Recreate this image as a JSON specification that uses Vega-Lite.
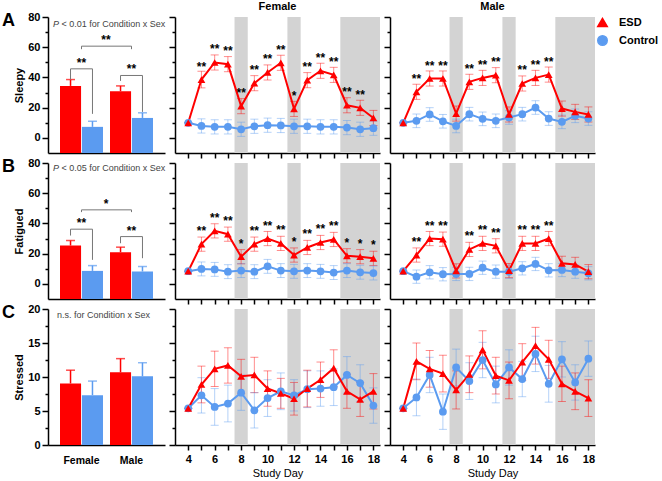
{
"$schema":"https://vega.github.io/schema/vega-lite/v6.json",
"padding":{"left":2,"top":1,"right":0,"bottom":2},
"config":{"view":{"stroke":null},"font":"Liberation Sans",
"axis":{"domainColor":"#000","domainWidth":1.5,"tickColor":"#000","tickWidth":1.5,"labelColor":"#000","labelFontSize":11,"labelFontWeight":"bold","titleColor":"#000","titleFontSize":11,"titleFontWeight":"bold","grid":false,"labelPadding":2,"labelOverlap":false,"tickCount":40},
"title":{"fontSize":11,"fontWeight":"bold","color":"#000","offset":0}},
"datasets":{
"bands":[{"d":7.5,"d2":8.5},{"d":11.5,"d2":12.5},{"d":15.5,"d2":18.5}],
"bars":[
{"m":"Sleepy","s":"Female","c":"ESD","v":34.4,"hi":38.6},{"m":"Sleepy","s":"Female","c":"Control","v":7.3,"hi":11},{"m":"Sleepy","s":"Male","c":"ESD","v":30.9,"hi":34.4},{"m":"Sleepy","s":"Male","c":"Control","v":13.2,"hi":16.6},
{"m":"Fatigued","s":"Female","c":"ESD","v":25.4,"hi":28.7},{"m":"Fatigued","s":"Female","c":"Control","v":8.6,"hi":12.1},{"m":"Fatigued","s":"Male","c":"ESD","v":21,"hi":24.3},{"m":"Fatigued","s":"Male","c":"Control","v":8.2,"hi":11.5},
{"m":"Stressed","s":"Female","c":"ESD","v":9.05,"hi":11},{"m":"Stressed","s":"Female","c":"Control","v":7.33,"hi":9.4},{"m":"Stressed","s":"Male","c":"ESD","v":10.7,"hi":12.7},{"m":"Stressed","s":"Male","c":"Control","v":10.1,"hi":12.1}],
"brk":[
{"m":"Sleepy","id":"F","o":1,"s":"Female","c":"ESD","v":38.6},{"m":"Sleepy","id":"F","o":2,"s":"Female","c":"ESD","v":45.7},{"m":"Sleepy","id":"F","o":3,"s":"Female","c":"Control","v":45.7},{"m":"Sleepy","id":"F","o":4,"s":"Female","c":"Control","v":15.9},
{"m":"Sleepy","id":"M","o":1,"s":"Male","c":"ESD","v":37.7},{"m":"Sleepy","id":"M","o":2,"s":"Male","c":"ESD","v":41.3},{"m":"Sleepy","id":"M","o":3,"s":"Male","c":"Control","v":41.3},{"m":"Sleepy","id":"M","o":4,"s":"Male","c":"Control","v":17.2},
{"m":"Sleepy","id":"B","o":1,"s":"Female","v":58.7},{"m":"Sleepy","id":"B","o":2,"s":"Female","v":60.7},{"m":"Sleepy","id":"B","o":3,"s":"Male","v":60.7},{"m":"Sleepy","id":"B","o":4,"s":"Male","v":58.7},
{"m":"Fatigued","id":"F","o":1,"s":"Female","c":"ESD","v":32},{"m":"Fatigued","id":"F","o":2,"s":"Female","c":"ESD","v":36.2},{"m":"Fatigued","id":"F","o":3,"s":"Female","c":"Control","v":36.2},{"m":"Fatigued","id":"F","o":4,"s":"Female","c":"Control","v":15.9},
{"m":"Fatigued","id":"M","o":1,"s":"Male","c":"ESD","v":26.9},{"m":"Fatigued","id":"M","o":2,"s":"Male","c":"ESD","v":31.3},{"m":"Fatigued","id":"M","o":3,"s":"Male","c":"Control","v":31.3},{"m":"Fatigued","id":"M","o":4,"s":"Male","c":"Control","v":17},
{"m":"Fatigued","id":"B","o":1,"s":"Female","v":47.5},{"m":"Fatigued","id":"B","o":2,"s":"Female","v":49},{"m":"Fatigued","id":"B","o":3,"s":"Male","v":49},{"m":"Fatigued","id":"B","o":4,"s":"Male","v":47.5}],
"brl":[
{"m":"Sleepy","id":"F","s":"Female","t":"**","v":45.7},{"m":"Sleepy","id":"M","s":"Male","t":"**","v":41.3},{"m":"Sleepy","id":"B","s":"Male","t":"**","v":60.7},
{"m":"Fatigued","id":"F","s":"Female","t":"**","v":36.2},{"m":"Fatigued","id":"M","s":"Male","t":"**","v":31.3},{"m":"Fatigued","id":"B","s":"Male","t":"*","v":49}],
"notes":[
{"m":"Sleepy","s":"Female","p":"P","t":"< 0.01 for Condition x Sex","v":75.5},
{"m":"Fatigued","s":"Female","p":"P","t":"< 0.05 for Condition x Sex","v":76.8},
{"m":"Stressed","s":"Female","p":"","t":"n.s. for Condition x Sex","v":19.1}],
"lines":[
{"m":"Sleepy","s":"Female","c":"Control","d":4,"v":10,"e":0,"t":""},{"m":"Sleepy","s":"Female","c":"Control","d":5,"v":7.9,"e":4.7,"t":""},{"m":"Sleepy","s":"Female","c":"Control","d":6,"v":7.3,"e":4.7,"t":""},{"m":"Sleepy","s":"Female","c":"Control","d":7,"v":7.3,"e":4.7,"t":""},{"m":"Sleepy","s":"Female","c":"Control","d":8,"v":5.7,"e":4.7,"t":""},{"m":"Sleepy","s":"Female","c":"Control","d":9,"v":7.7,"e":4.7,"t":""},{"m":"Sleepy","s":"Female","c":"Control","d":10,"v":8.4,"e":4.7,"t":""},{"m":"Sleepy","s":"Female","c":"Control","d":11,"v":8.2,"e":4.7,"t":""},{"m":"Sleepy","s":"Female","c":"Control","d":12,"v":7.7,"e":4.7,"t":""},{"m":"Sleepy","s":"Female","c":"Control","d":13,"v":7.7,"e":4.7,"t":""},{"m":"Sleepy","s":"Female","c":"Control","d":14,"v":7.3,"e":4.7,"t":""},{"m":"Sleepy","s":"Female","c":"Control","d":15,"v":7.3,"e":4.7,"t":""},{"m":"Sleepy","s":"Female","c":"Control","d":16,"v":6.8,"e":4.7,"t":""},{"m":"Sleepy","s":"Female","c":"Control","d":17,"v":5.7,"e":4.7,"t":""},{"m":"Sleepy","s":"Female","c":"Control","d":18,"v":6.4,"e":4.7,"t":""},
{"m":"Sleepy","s":"Male","c":"Control","d":4,"v":10,"e":0,"t":""},{"m":"Sleepy","s":"Male","c":"Control","d":5,"v":11.3,"e":4.5,"t":""},{"m":"Sleepy","s":"Male","c":"Control","d":6,"v":15.5,"e":4.5,"t":""},{"m":"Sleepy","s":"Male","c":"Control","d":7,"v":11,"e":4.5,"t":""},{"m":"Sleepy","s":"Male","c":"Control","d":8,"v":7.9,"e":4.5,"t":""},{"m":"Sleepy","s":"Male","c":"Control","d":9,"v":15.7,"e":4.5,"t":""},{"m":"Sleepy","s":"Male","c":"Control","d":10,"v":12.6,"e":4.5,"t":""},{"m":"Sleepy","s":"Male","c":"Control","d":11,"v":11.3,"e":4.5,"t":""},{"m":"Sleepy","s":"Male","c":"Control","d":12,"v":13.5,"e":4.5,"t":""},{"m":"Sleepy","s":"Male","c":"Control","d":13,"v":15.7,"e":4.5,"t":""},{"m":"Sleepy","s":"Male","c":"Control","d":14,"v":20.1,"e":4.5,"t":""},{"m":"Sleepy","s":"Male","c":"Control","d":15,"v":12.8,"e":4.5,"t":""},{"m":"Sleepy","s":"Male","c":"Control","d":16,"v":10.6,"e":4.5,"t":""},{"m":"Sleepy","s":"Male","c":"Control","d":17,"v":14.6,"e":4.5,"t":""},{"m":"Sleepy","s":"Male","c":"Control","d":18,"v":12.8,"e":4.5,"t":""},
{"m":"Fatigued","s":"Female","c":"Control","d":4,"v":8.4,"e":0,"t":""},{"m":"Fatigued","s":"Female","c":"Control","d":5,"v":9.9,"e":4.6,"t":""},{"m":"Fatigued","s":"Female","c":"Control","d":6,"v":9.6,"e":4.6,"t":""},{"m":"Fatigued","s":"Female","c":"Control","d":7,"v":8.1,"e":4.6,"t":""},{"m":"Fatigued","s":"Female","c":"Control","d":8,"v":8.8,"e":4.6,"t":""},{"m":"Fatigued","s":"Female","c":"Control","d":9,"v":8.1,"e":4.6,"t":""},{"m":"Fatigued","s":"Female","c":"Control","d":10,"v":11.6,"e":4.6,"t":""},{"m":"Fatigued","s":"Female","c":"Control","d":11,"v":8.8,"e":4.6,"t":""},{"m":"Fatigued","s":"Female","c":"Control","d":12,"v":8.3,"e":4.6,"t":""},{"m":"Fatigued","s":"Female","c":"Control","d":13,"v":8.8,"e":4.6,"t":""},{"m":"Fatigued","s":"Female","c":"Control","d":14,"v":8.3,"e":4.6,"t":""},{"m":"Fatigued","s":"Female","c":"Control","d":15,"v":7.5,"e":4.6,"t":""},{"m":"Fatigued","s":"Female","c":"Control","d":16,"v":8.8,"e":4.6,"t":""},{"m":"Fatigued","s":"Female","c":"Control","d":17,"v":7.7,"e":4.6,"t":""},{"m":"Fatigued","s":"Female","c":"Control","d":18,"v":7.2,"e":4.6,"t":""},
{"m":"Fatigued","s":"Male","c":"Control","d":4,"v":8.4,"e":0,"t":""},{"m":"Fatigued","s":"Male","c":"Control","d":5,"v":4.8,"e":4.4,"t":""},{"m":"Fatigued","s":"Male","c":"Control","d":6,"v":7.7,"e":4.4,"t":""},{"m":"Fatigued","s":"Male","c":"Control","d":7,"v":6.4,"e":4.4,"t":""},{"m":"Fatigued","s":"Male","c":"Control","d":8,"v":6.6,"e":4.4,"t":""},{"m":"Fatigued","s":"Male","c":"Control","d":9,"v":6.6,"e":4.4,"t":""},{"m":"Fatigued","s":"Male","c":"Control","d":10,"v":10.7,"e":4.4,"t":""},{"m":"Fatigued","s":"Male","c":"Control","d":11,"v":8.1,"e":4.4,"t":""},{"m":"Fatigued","s":"Male","c":"Control","d":12,"v":8.1,"e":4.4,"t":""},{"m":"Fatigued","s":"Male","c":"Control","d":13,"v":10.3,"e":4.4,"t":""},{"m":"Fatigued","s":"Male","c":"Control","d":14,"v":13.2,"e":4.4,"t":""},{"m":"Fatigued","s":"Male","c":"Control","d":15,"v":9,"e":4.4,"t":""},{"m":"Fatigued","s":"Male","c":"Control","d":16,"v":9.2,"e":4.4,"t":""},{"m":"Fatigued","s":"Male","c":"Control","d":17,"v":8.1,"e":4.4,"t":""},{"m":"Fatigued","s":"Male","c":"Control","d":18,"v":7,"e":4.4,"t":""},
{"m":"Stressed","s":"Female","c":"Control","d":4,"v":5.4,"e":0,"t":""},{"m":"Stressed","s":"Female","c":"Control","d":5,"v":7.3,"e":2.6,"t":""},{"m":"Stressed","s":"Female","c":"Control","d":6,"v":5.6,"e":2.7,"t":""},{"m":"Stressed","s":"Female","c":"Control","d":7,"v":6.1,"e":2.7,"t":""},{"m":"Stressed","s":"Female","c":"Control","d":8,"v":7.7,"e":2.6,"t":""},{"m":"Stressed","s":"Female","c":"Control","d":9,"v":5.1,"e":2.6,"t":""},{"m":"Stressed","s":"Female","c":"Control","d":10,"v":6.9,"e":2.7,"t":""},{"m":"Stressed","s":"Female","c":"Control","d":11,"v":7.9,"e":2.7,"t":""},{"m":"Stressed","s":"Female","c":"Control","d":12,"v":7.3,"e":2.3,"t":""},{"m":"Stressed","s":"Female","c":"Control","d":13,"v":8.2,"e":2.7,"t":""},{"m":"Stressed","s":"Female","c":"Control","d":14,"v":8.3,"e":2.6,"t":""},{"m":"Stressed","s":"Female","c":"Control","d":15,"v":8.5,"e":2.7,"t":""},{"m":"Stressed","s":"Female","c":"Control","d":16,"v":10.3,"e":2.7,"t":""},{"m":"Stressed","s":"Female","c":"Control","d":17,"v":9.1,"e":2.7,"t":""},{"m":"Stressed","s":"Female","c":"Control","d":18,"v":5.8,"e":2.6,"t":""},
{"m":"Stressed","s":"Male","c":"Control","d":4,"v":5.4,"e":0,"t":""},{"m":"Stressed","s":"Male","c":"Control","d":5,"v":7,"e":2.7,"t":""},{"m":"Stressed","s":"Male","c":"Control","d":6,"v":10.3,"e":2.6,"t":""},{"m":"Stressed","s":"Male","c":"Control","d":7,"v":4.9,"e":2.6,"t":""},{"m":"Stressed","s":"Male","c":"Control","d":8,"v":11.4,"e":2.7,"t":""},{"m":"Stressed","s":"Male","c":"Control","d":9,"v":9.4,"e":2.7,"t":""},{"m":"Stressed","s":"Male","c":"Control","d":10,"v":12.5,"e":2.6,"t":""},{"m":"Stressed","s":"Male","c":"Control","d":11,"v":8.9,"e":2.7,"t":""},{"m":"Stressed","s":"Male","c":"Control","d":12,"v":11.4,"e":2.6,"t":""},{"m":"Stressed","s":"Male","c":"Control","d":13,"v":9.7,"e":2.6,"t":""},{"m":"Stressed","s":"Male","c":"Control","d":14,"v":13.4,"e":2.6,"t":""},{"m":"Stressed","s":"Male","c":"Control","d":15,"v":9,"e":2.7,"t":""},{"m":"Stressed","s":"Male","c":"Control","d":16,"v":12.6,"e":2.6,"t":""},{"m":"Stressed","s":"Male","c":"Control","d":17,"v":9.2,"e":2.6,"t":""},{"m":"Stressed","s":"Male","c":"Control","d":18,"v":12.7,"e":2.6,"t":""},
{"m":"Sleepy","s":"Female","c":"ESD","d":4,"v":10,"e":0,"t":""},{"m":"Sleepy","s":"Female","c":"ESD","d":5,"v":38.6,"e":5.5,"t":"**"},{"m":"Sleepy","s":"Female","c":"ESD","d":6,"v":49.9,"e":5,"t":"**"},{"m":"Sleepy","s":"Female","c":"ESD","d":7,"v":48.8,"e":5,"t":"**"},{"m":"Sleepy","s":"Female","c":"ESD","d":8,"v":21,"e":5,"t":"**"},{"m":"Sleepy","s":"Female","c":"ESD","d":9,"v":36.2,"e":5,"t":"**"},{"m":"Sleepy","s":"Female","c":"ESD","d":10,"v":43.3,"e":5,"t":"**"},{"m":"Sleepy","s":"Female","c":"ESD","d":11,"v":49.7,"e":5,"t":"**"},{"m":"Sleepy","s":"Female","c":"ESD","d":12,"v":19.2,"e":5,"t":"*"},{"m":"Sleepy","s":"Female","c":"ESD","d":13,"v":38.2,"e":5,"t":"**"},{"m":"Sleepy","s":"Female","c":"ESD","d":14,"v":44.4,"e":5,"t":"**"},{"m":"Sleepy","s":"Female","c":"ESD","d":15,"v":41.7,"e":5,"t":"**"},{"m":"Sleepy","s":"Female","c":"ESD","d":16,"v":21.6,"e":5,"t":"**"},{"m":"Sleepy","s":"Female","c":"ESD","d":17,"v":19.9,"e":5,"t":"**"},{"m":"Sleepy","s":"Female","c":"ESD","d":18,"v":13.2,"e":5,"t":""},
{"m":"Sleepy","s":"Male","c":"ESD","d":4,"v":10,"e":0,"t":""},{"m":"Sleepy","s":"Male","c":"ESD","d":5,"v":30.5,"e":5,"t":"**"},{"m":"Sleepy","s":"Male","c":"ESD","d":6,"v":39.3,"e":5,"t":"**"},{"m":"Sleepy","s":"Male","c":"ESD","d":7,"v":39.3,"e":5,"t":"**"},{"m":"Sleepy","s":"Male","c":"ESD","d":8,"v":16.1,"e":5,"t":""},{"m":"Sleepy","s":"Male","c":"ESD","d":9,"v":37.1,"e":5,"t":"**"},{"m":"Sleepy","s":"Male","c":"ESD","d":10,"v":39.7,"e":5,"t":"**"},{"m":"Sleepy","s":"Male","c":"ESD","d":11,"v":41.5,"e":5,"t":"**"},{"m":"Sleepy","s":"Male","c":"ESD","d":12,"v":15.5,"e":5,"t":""},{"m":"Sleepy","s":"Male","c":"ESD","d":13,"v":36,"e":5,"t":"**"},{"m":"Sleepy","s":"Male","c":"ESD","d":14,"v":39.7,"e":5,"t":"**"},{"m":"Sleepy","s":"Male","c":"ESD","d":15,"v":41.9,"e":5,"t":"**"},{"m":"Sleepy","s":"Male","c":"ESD","d":16,"v":19.4,"e":5,"t":""},{"m":"Sleepy","s":"Male","c":"ESD","d":17,"v":17.2,"e":5,"t":""},{"m":"Sleepy","s":"Male","c":"ESD","d":18,"v":15.5,"e":5,"t":""},
{"m":"Fatigued","s":"Female","c":"ESD","d":4,"v":8.4,"e":0,"t":""},{"m":"Fatigued","s":"Female","c":"ESD","d":5,"v":26.3,"e":4.7,"t":"**"},{"m":"Fatigued","s":"Female","c":"ESD","d":6,"v":35.1,"e":4.7,"t":"**"},{"m":"Fatigued","s":"Female","c":"ESD","d":7,"v":32.9,"e":4.7,"t":"**"},{"m":"Fatigued","s":"Female","c":"ESD","d":8,"v":18,"e":4.7,"t":"*"},{"m":"Fatigued","s":"Female","c":"ESD","d":9,"v":26.3,"e":4.7,"t":"**"},{"m":"Fatigued","s":"Female","c":"ESD","d":10,"v":30,"e":4.7,"t":"**"},{"m":"Fatigued","s":"Female","c":"ESD","d":11,"v":26.8,"e":4.7,"t":"**"},{"m":"Fatigued","s":"Female","c":"ESD","d":12,"v":19.1,"e":4.7,"t":"*"},{"m":"Fatigued","s":"Female","c":"ESD","d":13,"v":24.1,"e":4.7,"t":"**"},{"m":"Fatigued","s":"Female","c":"ESD","d":14,"v":27.4,"e":4.7,"t":"**"},{"m":"Fatigued","s":"Female","c":"ESD","d":15,"v":29.4,"e":4.7,"t":"**"},{"m":"Fatigued","s":"Female","c":"ESD","d":16,"v":18.6,"e":4.7,"t":"*"},{"m":"Fatigued","s":"Female","c":"ESD","d":17,"v":18,"e":4.7,"t":"*"},{"m":"Fatigued","s":"Female","c":"ESD","d":18,"v":16.9,"e":4.7,"t":"*"},
{"m":"Fatigued","s":"Male","c":"ESD","d":4,"v":8.4,"e":0,"t":""},{"m":"Fatigued","s":"Male","c":"ESD","d":5,"v":19.1,"e":4.7,"t":"**"},{"m":"Fatigued","s":"Male","c":"ESD","d":6,"v":30,"e":4.7,"t":"**"},{"m":"Fatigued","s":"Male","c":"ESD","d":7,"v":29.6,"e":4.7,"t":"**"},{"m":"Fatigued","s":"Male","c":"ESD","d":8,"v":8.6,"e":4.7,"t":""},{"m":"Fatigued","s":"Male","c":"ESD","d":9,"v":22.8,"e":4.7,"t":"**"},{"m":"Fatigued","s":"Male","c":"ESD","d":10,"v":26.8,"e":4.7,"t":"**"},{"m":"Fatigued","s":"Male","c":"ESD","d":11,"v":25.2,"e":4.7,"t":"**"},{"m":"Fatigued","s":"Male","c":"ESD","d":12,"v":8.8,"e":4.7,"t":""},{"m":"Fatigued","s":"Male","c":"ESD","d":13,"v":26.8,"e":4.7,"t":"**"},{"m":"Fatigued","s":"Male","c":"ESD","d":14,"v":26.8,"e":4.7,"t":"**"},{"m":"Fatigued","s":"Male","c":"ESD","d":15,"v":30,"e":4.7,"t":"**"},{"m":"Fatigued","s":"Male","c":"ESD","d":16,"v":13.6,"e":4.7,"t":""},{"m":"Fatigued","s":"Male","c":"ESD","d":17,"v":12.9,"e":4.7,"t":""},{"m":"Fatigued","s":"Male","c":"ESD","d":18,"v":8.1,"e":4.7,"t":""},
{"m":"Stressed","s":"Female","c":"ESD","d":4,"v":5.4,"e":0,"t":""},{"m":"Stressed","s":"Female","c":"ESD","d":5,"v":8.9,"e":2.7,"t":""},{"m":"Stressed","s":"Female","c":"ESD","d":6,"v":11.2,"e":2.6,"t":""},{"m":"Stressed","s":"Female","c":"ESD","d":7,"v":11.7,"e":2.6,"t":""},{"m":"Stressed","s":"Female","c":"ESD","d":8,"v":10.1,"e":2.5,"t":""},{"m":"Stressed","s":"Female","c":"ESD","d":9,"v":10.3,"e":2.6,"t":""},{"m":"Stressed","s":"Female","c":"ESD","d":10,"v":8.3,"e":2.6,"t":""},{"m":"Stressed","s":"Female","c":"ESD","d":11,"v":7.6,"e":2.2,"t":""},{"m":"Stressed","s":"Female","c":"ESD","d":12,"v":6.8,"e":2.4,"t":""},{"m":"Stressed","s":"Female","c":"ESD","d":13,"v":8.3,"e":2.7,"t":""},{"m":"Stressed","s":"Female","c":"ESD","d":14,"v":9.6,"e":2.6,"t":""},{"m":"Stressed","s":"Female","c":"ESD","d":15,"v":11.3,"e":2.7,"t":""},{"m":"Stressed","s":"Female","c":"ESD","d":16,"v":7.9,"e":2.5,"t":""},{"m":"Stressed","s":"Female","c":"ESD","d":17,"v":6.7,"e":2.5,"t":""},{"m":"Stressed","s":"Female","c":"ESD","d":18,"v":7.9,"e":2.6,"t":""},
{"m":"Stressed","s":"Male","c":"ESD","d":4,"v":5.4,"e":0,"t":""},{"m":"Stressed","s":"Male","c":"ESD","d":5,"v":12.3,"e":2.7,"t":""},{"m":"Stressed","s":"Male","c":"ESD","d":6,"v":11.2,"e":2.7,"t":""},{"m":"Stressed","s":"Male","c":"ESD","d":7,"v":10.5,"e":2.7,"t":""},{"m":"Stressed","s":"Male","c":"ESD","d":8,"v":8.1,"e":2.8,"t":""},{"m":"Stressed","s":"Male","c":"ESD","d":9,"v":10.4,"e":2.7,"t":""},{"m":"Stressed","s":"Male","c":"ESD","d":10,"v":14,"e":2.8,"t":""},{"m":"Stressed","s":"Male","c":"ESD","d":11,"v":10.2,"e":2.7,"t":""},{"m":"Stressed","s":"Male","c":"ESD","d":12,"v":9.5,"e":2.7,"t":""},{"m":"Stressed","s":"Male","c":"ESD","d":13,"v":12.2,"e":2.7,"t":""},{"m":"Stressed","s":"Male","c":"ESD","d":14,"v":14.6,"e":2.7,"t":""},{"m":"Stressed","s":"Male","c":"ESD","d":15,"v":12.6,"e":2.8,"t":""},{"m":"Stressed","s":"Male","c":"ESD","d":16,"v":9,"e":2.6,"t":""},{"m":"Stressed","s":"Male","c":"ESD","d":17,"v":7.9,"e":2.7,"t":""},{"m":"Stressed","s":"Male","c":"ESD","d":18,"v":6.9,"e":2.7,"t":""}]
},
"resolve":{"scale":{"color":"independent","shape":"independent"},"legend":{"color":"independent","shape":"independent"}},
"bounds":"flush",
"columns":3,
"spacing":{"row":10,"column":10},
"concat":[
{"width":117,"height":136,
 "title":{"text":"A","anchor":"start","frame":"group","orient":"top","dx":-46,"dy":33,"fontSize":18,"offset":0,"baseline":"alphabetic"},
 "layer":[
  {"data":{"name":"bars"},"transform":[{"filter":"datum.m==='Sleepy'"}],"mark":{"type":"bar"},
   "encoding":{"x":{"field":"s","type":"nominal","sort":["Female","Male"],"scale":{"paddingInner":0.14,"paddingOuter":0.24},"axis":{"labels":false,"ticks":false,"title":null}},
    "xOffset":{"field":"c","type":"nominal","sort":["ESD","Control"],"scale":{"domain":["ESD","Control"],"paddingInner":0.04}},
    "y":{"field":"v","type":"quantitative","scale":{"domain":[-10,80],"nice":false,"zero":false},"axis":{"values":[0,10,20,30,40,50,60,70,80],"tickCount":40,"format":"d","labelOverlap":false,"labelExpr":"datum.value % 20 === 0 ? datum.label : ''","tickSize":{"condition":{"test":"datum.value % 20 === 0","value":6},"value":3},"title":"Sleepy","titlePadding":3}},
    "y2":{"datum":-10},
    "color":{"field":"c","type":"nominal","scale":{"domain":["ESD","Control"],"range":["#FF0000","#5B9BF0"]},"legend":null}}},
  {"data":{"name":"bars"},"transform":[{"filter":"datum.m==='Sleepy'"}],"mark":{"type":"rule","strokeWidth":1.5},
   "encoding":{"x":{"field":"s","type":"nominal"},"xOffset":{"field":"c","type":"nominal"},"y":{"field":"v","type":"quantitative"},"y2":{"field":"hi"},"color":{"field":"c","type":"nominal","legend":null}}},
  {"data":{"name":"bars"},"transform":[{"filter":"datum.m==='Sleepy'"}],"mark":{"type":"tick","size":9,"thickness":1.5},
   "encoding":{"x":{"field":"s","type":"nominal"},"xOffset":{"field":"c","type":"nominal"},"y":{"field":"hi","type":"quantitative"},"color":{"field":"c","type":"nominal","legend":null}}},
  {"data":{"name":"brk"},"transform":[{"filter":"datum.m==='Sleepy' && datum.id!=='B'"}],"mark":{"type":"line","color":"#777","strokeWidth":1},
   "encoding":{"x":{"field":"s","type":"nominal"},"xOffset":{"field":"c","type":"nominal"},"y":{"field":"v","type":"quantitative"},"detail":{"field":"id"},"order":{"field":"o"}}},
  {"data":{"name":"brk"},"transform":[{"filter":"datum.m==='Sleepy' && datum.id==='B'"}],"mark":{"type":"line","color":"#777","strokeWidth":1},
   "encoding":{"x":{"field":"s","type":"nominal"},"y":{"field":"v","type":"quantitative"},"order":{"field":"o"}}},
  {"data":{"name":"brl"},"transform":[{"filter":"datum.m==='Sleepy' && datum.id!=='B'"}],"mark":{"type":"text","dy":-6,"fontSize":12,"fontWeight":"bold","baseline":"middle"},
   "encoding":{"x":{"field":"s","type":"nominal"},"y":{"field":"v","type":"quantitative"},"text":{"field":"t"}}},
  {"data":{"name":"brl"},"transform":[{"filter":"datum.m==='Sleepy' && datum.id==='B'"}],"mark":{"type":"text","dy":-6,"dx":-4,"fontSize":12,"fontWeight":"bold","baseline":"middle"},
   "encoding":{"x":{"field":"s","type":"nominal","bandPosition":0},"y":{"field":"v","type":"quantitative"},"text":{"field":"t"}}},
  {"data":{"name":"notes"},"transform":[{"filter":"datum.m==='Sleepy'"}],"mark":{"type":"text","align":"left","dx":-7,"fontSize":9,"fontStyle":"italic","color":"#444","baseline":"middle"},
   "encoding":{"x":{"field":"s","type":"nominal","bandPosition":0},"y":{"field":"v","type":"quantitative"},"text":{"field":"p"}}},
  {"data":{"name":"notes"},"transform":[{"filter":"datum.m==='Sleepy'"}],"mark":{"type":"text","align":"left","dx":1.5,"fontSize":9,"color":"#444","baseline":"middle"},
   "encoding":{"x":{"field":"s","type":"nominal","bandPosition":0},"y":{"field":"v","type":"quantitative"},"text":{"field":"t"}}}
 ]},
{"width":205,"height":136,"title":{"text":"Female"},
 "encoding":{"x":{"field":"d","type":"quantitative","scale":{"domain":[3,18.5],"nice":false,"zero":false},"axis":{"values":[4,5,6,7,8,9,10,11,12,13,14,15,16,17,18],"tickCount":40,"labels":false,"title":null,"tickSize":5}}},
 "layer":[
  {"data":{"name":"bands"},"mark":{"type":"rect","color":"#D3D3D3"},"encoding":{"x2":{"field":"d2"}}},
  {"data":{"name":"lines"},"transform":[{"filter":"datum.m==='Sleepy' && datum.s==='Female'"}],"mark":{"type":"errorbar","ticks":{"size":8},"thickness":1},"encoding":{"y":{"field":"v","type":"quantitative","scale":{"domain":[-10,80],"nice":false,"zero":false},"axis":{"values":[0,10,20,30,40,50,60,70,80],"tickCount":40,"labels":false,"title":null,"tickSize":{"condition":{"test":"datum.value % 20 === 0","value":6},"value":3}}},"yError":{"field":"e"},"color":{"field":"c","type":"nominal","scale":{"domain":["ESD","Control"],"range":["#FF0000","#5B9BF0"]},"legend":null},"opacity":{"value":0.45}}},
  {"data":{"name":"lines"},"transform":[{"filter":"datum.m==='Sleepy' && datum.s==='Female'"}],"mark":{"type":"line","strokeWidth":2},"encoding":{"y":{"field":"v","type":"quantitative"},"color":{"field":"c","type":"nominal","legend":null}}},
  {"data":{"name":"lines"},"transform":[{"filter":"datum.m==='Sleepy' && datum.s==='Female'"}],"mark":{"type":"point","filled":true,"size":60,"opacity":1},"encoding":{"y":{"field":"v","type":"quantitative"},"color":{"field":"c","type":"nominal","legend":null},"shape":{"field":"c","type":"nominal","scale":{"domain":["ESD","Control"],"range":["triangle-up","circle"]},"legend":null}}},
  {"data":{"name":"lines"},"transform":[{"filter":"datum.m==='Sleepy' && datum.s==='Female' && datum.t !== ''"}],"mark":{"type":"text","dy":-13,"fontSize":12,"fontWeight":"bold","baseline":"middle"},"encoding":{"y":{"field":"v","type":"quantitative"},"text":{"field":"t"}}}
 ]},
{"width":205,"height":136,"title":{"text":"Male"},
 "encoding":{"x":{"field":"d","type":"quantitative","scale":{"domain":[3,18.5],"nice":false,"zero":false},"axis":{"values":[4,5,6,7,8,9,10,11,12,13,14,15,16,17,18],"tickCount":40,"labels":false,"title":null,"tickSize":5}}},
 "layer":[
  {"data":{"name":"bands"},"mark":{"type":"rect","color":"#D3D3D3"},"encoding":{"x2":{"field":"d2"}}},
  {"data":{"name":"lines"},"transform":[{"filter":"datum.m==='Sleepy' && datum.s==='Male' && datum.c==='Control'"}],"mark":{"type":"errorbar","ticks":{"size":8},"thickness":1,"color":"#5B9BF0","opacity":0.45},"encoding":{"y":{"field":"v","type":"quantitative","scale":{"domain":[-10,80],"nice":false,"zero":false},"axis":{"values":[0,10,20,30,40,50,60,70,80],"tickCount":40,"labels":false,"title":null,"tickSize":{"condition":{"test":"datum.value % 20 === 0","value":6},"value":3}}},"yError":{"field":"e"}}},
  {"data":{"name":"lines"},"transform":[{"filter":"datum.m==='Sleepy' && datum.s==='Male' && datum.c==='ESD'"}],"mark":{"type":"errorbar","ticks":{"size":8},"thickness":1,"color":"#FF0000","opacity":0.45},"encoding":{"y":{"field":"v","type":"quantitative"},"yError":{"field":"e"}}},
  {"data":{"name":"lines"},"transform":[{"filter":"datum.m==='Sleepy' && datum.s==='Male'"}],"mark":{"type":"line","strokeWidth":2},"encoding":{"y":{"field":"v","type":"quantitative"},"color":{"field":"c","type":"nominal","scale":{"domain":["ESD","Control"],"range":["#FF0000","#5B9BF0"]}}}},
  {"data":{"name":"lines"},"transform":[{"filter":"datum.m==='Sleepy' && datum.s==='Male'"}],"mark":{"type":"point","filled":true,"size":60,"opacity":1},"encoding":{"y":{"field":"v","type":"quantitative"},"color":{"field":"c","type":"nominal","legend":{"title":null,"orient":"right","offset":2,"padding":0,"labelFontSize":11,"labelFontWeight":"bold","labelColor":"#000","symbolSize":90,"labelOffset":11,"rowPadding":2,"symbolOpacity":1}},"shape":{"field":"c","type":"nominal","scale":{"domain":["ESD","Control"],"range":["triangle-up","circle"]},"legend":null}}},
  {"data":{"name":"lines"},"transform":[{"filter":"datum.m==='Sleepy' && datum.s==='Male' && datum.t !== ''"}],"mark":{"type":"text","dy":-13,"fontSize":12,"fontWeight":"bold","baseline":"middle"},"encoding":{"y":{"field":"v","type":"quantitative"},"text":{"field":"t"}}}
 ]},
{"width":117,"height":136,
 "title":{"text":"B","anchor":"start","frame":"group","orient":"top","dx":-46,"dy":33,"fontSize":18,"offset":0,"baseline":"alphabetic"},
 "layer":[
  {"data":{"name":"bars"},"transform":[{"filter":"datum.m==='Fatigued'"}],"mark":{"type":"bar"},
   "encoding":{"x":{"field":"s","type":"nominal","sort":["Female","Male"],"scale":{"paddingInner":0.14,"paddingOuter":0.24},"axis":{"labels":false,"ticks":false,"title":null}},
    "xOffset":{"field":"c","type":"nominal","sort":["ESD","Control"],"scale":{"domain":["ESD","Control"],"paddingInner":0.04}},
    "y":{"field":"v","type":"quantitative","scale":{"domain":[-10,80],"nice":false,"zero":false},"axis":{"values":[0,10,20,30,40,50,60,70,80],"tickCount":40,"format":"d","labelOverlap":false,"labelExpr":"datum.value % 20 === 0 ? datum.label : ''","tickSize":{"condition":{"test":"datum.value % 20 === 0","value":6},"value":3},"title":"Fatigued","titlePadding":3}},
    "y2":{"datum":-10},
    "color":{"field":"c","type":"nominal","scale":{"domain":["ESD","Control"],"range":["#FF0000","#5B9BF0"]},"legend":null}}},
  {"data":{"name":"bars"},"transform":[{"filter":"datum.m==='Fatigued'"}],"mark":{"type":"rule","strokeWidth":1.5},
   "encoding":{"x":{"field":"s","type":"nominal"},"xOffset":{"field":"c","type":"nominal"},"y":{"field":"v","type":"quantitative"},"y2":{"field":"hi"},"color":{"field":"c","type":"nominal","legend":null}}},
  {"data":{"name":"bars"},"transform":[{"filter":"datum.m==='Fatigued'"}],"mark":{"type":"tick","size":9,"thickness":1.5},
   "encoding":{"x":{"field":"s","type":"nominal"},"xOffset":{"field":"c","type":"nominal"},"y":{"field":"hi","type":"quantitative"},"color":{"field":"c","type":"nominal","legend":null}}},
  {"data":{"name":"brk"},"transform":[{"filter":"datum.m==='Fatigued' && datum.id!=='B'"}],"mark":{"type":"line","color":"#777","strokeWidth":1},
   "encoding":{"x":{"field":"s","type":"nominal"},"xOffset":{"field":"c","type":"nominal"},"y":{"field":"v","type":"quantitative"},"detail":{"field":"id"},"order":{"field":"o"}}},
  {"data":{"name":"brk"},"transform":[{"filter":"datum.m==='Fatigued' && datum.id==='B'"}],"mark":{"type":"line","color":"#777","strokeWidth":1},
   "encoding":{"x":{"field":"s","type":"nominal"},"y":{"field":"v","type":"quantitative"},"order":{"field":"o"}}},
  {"data":{"name":"brl"},"transform":[{"filter":"datum.m==='Fatigued' && datum.id!=='B'"}],"mark":{"type":"text","dy":-6,"fontSize":12,"fontWeight":"bold","baseline":"middle"},
   "encoding":{"x":{"field":"s","type":"nominal"},"y":{"field":"v","type":"quantitative"},"text":{"field":"t"}}},
  {"data":{"name":"brl"},"transform":[{"filter":"datum.m==='Fatigued' && datum.id==='B'"}],"mark":{"type":"text","dy":-6,"dx":-4,"fontSize":12,"fontWeight":"bold","baseline":"middle"},
   "encoding":{"x":{"field":"s","type":"nominal","bandPosition":0},"y":{"field":"v","type":"quantitative"},"text":{"field":"t"}}},
  {"data":{"name":"notes"},"transform":[{"filter":"datum.m==='Fatigued'"}],"mark":{"type":"text","align":"left","dx":-7,"fontSize":9,"fontStyle":"italic","color":"#444","baseline":"middle"},
   "encoding":{"x":{"field":"s","type":"nominal","bandPosition":0},"y":{"field":"v","type":"quantitative"},"text":{"field":"p"}}},
  {"data":{"name":"notes"},"transform":[{"filter":"datum.m==='Fatigued'"}],"mark":{"type":"text","align":"left","dx":1.5,"fontSize":9,"color":"#444","baseline":"middle"},
   "encoding":{"x":{"field":"s","type":"nominal","bandPosition":0},"y":{"field":"v","type":"quantitative"},"text":{"field":"t"}}}
 ]},
{"width":205,"height":136,
 "encoding":{"x":{"field":"d","type":"quantitative","scale":{"domain":[3,18.5],"nice":false,"zero":false},"axis":{"values":[4,5,6,7,8,9,10,11,12,13,14,15,16,17,18],"tickCount":40,"labels":false,"title":null,"tickSize":5}}},
 "layer":[
  {"data":{"name":"bands"},"mark":{"type":"rect","color":"#D3D3D3"},"encoding":{"x2":{"field":"d2"}}},
  {"data":{"name":"lines"},"transform":[{"filter":"datum.m==='Fatigued' && datum.s==='Female'"}],"mark":{"type":"errorbar","ticks":{"size":8},"thickness":1},"encoding":{"y":{"field":"v","type":"quantitative","scale":{"domain":[-10,80],"nice":false,"zero":false},"axis":{"values":[0,10,20,30,40,50,60,70,80],"tickCount":40,"labels":false,"title":null,"tickSize":{"condition":{"test":"datum.value % 20 === 0","value":6},"value":3}}},"yError":{"field":"e"},"color":{"field":"c","type":"nominal","scale":{"domain":["ESD","Control"],"range":["#FF0000","#5B9BF0"]},"legend":null},"opacity":{"value":0.45}}},
  {"data":{"name":"lines"},"transform":[{"filter":"datum.m==='Fatigued' && datum.s==='Female'"}],"mark":{"type":"line","strokeWidth":2},"encoding":{"y":{"field":"v","type":"quantitative"},"color":{"field":"c","type":"nominal","legend":null}}},
  {"data":{"name":"lines"},"transform":[{"filter":"datum.m==='Fatigued' && datum.s==='Female'"}],"mark":{"type":"point","filled":true,"size":60,"opacity":1},"encoding":{"y":{"field":"v","type":"quantitative"},"color":{"field":"c","type":"nominal","legend":null},"shape":{"field":"c","type":"nominal","scale":{"domain":["ESD","Control"],"range":["triangle-up","circle"]},"legend":null}}},
  {"data":{"name":"lines"},"transform":[{"filter":"datum.m==='Fatigued' && datum.s==='Female' && datum.t !== ''"}],"mark":{"type":"text","dy":-13,"fontSize":12,"fontWeight":"bold","baseline":"middle"},"encoding":{"y":{"field":"v","type":"quantitative"},"text":{"field":"t"}}}
 ]},
{"width":205,"height":136,
 "encoding":{"x":{"field":"d","type":"quantitative","scale":{"domain":[3,18.5],"nice":false,"zero":false},"axis":{"values":[4,5,6,7,8,9,10,11,12,13,14,15,16,17,18],"tickCount":40,"labels":false,"title":null,"tickSize":5}}},
 "layer":[
  {"data":{"name":"bands"},"mark":{"type":"rect","color":"#D3D3D3"},"encoding":{"x2":{"field":"d2"}}},
  {"data":{"name":"lines"},"transform":[{"filter":"datum.m==='Fatigued' && datum.s==='Male'"}],"mark":{"type":"errorbar","ticks":{"size":8},"thickness":1},"encoding":{"y":{"field":"v","type":"quantitative","scale":{"domain":[-10,80],"nice":false,"zero":false},"axis":{"values":[0,10,20,30,40,50,60,70,80],"tickCount":40,"labels":false,"title":null,"tickSize":{"condition":{"test":"datum.value % 20 === 0","value":6},"value":3}}},"yError":{"field":"e"},"color":{"field":"c","type":"nominal","scale":{"domain":["ESD","Control"],"range":["#FF0000","#5B9BF0"]},"legend":null},"opacity":{"value":0.45}}},
  {"data":{"name":"lines"},"transform":[{"filter":"datum.m==='Fatigued' && datum.s==='Male'"}],"mark":{"type":"line","strokeWidth":2},"encoding":{"y":{"field":"v","type":"quantitative"},"color":{"field":"c","type":"nominal","legend":null}}},
  {"data":{"name":"lines"},"transform":[{"filter":"datum.m==='Fatigued' && datum.s==='Male'"}],"mark":{"type":"point","filled":true,"size":60,"opacity":1},"encoding":{"y":{"field":"v","type":"quantitative"},"color":{"field":"c","type":"nominal","legend":null},"shape":{"field":"c","type":"nominal","scale":{"domain":["ESD","Control"],"range":["triangle-up","circle"]},"legend":null}}},
  {"data":{"name":"lines"},"transform":[{"filter":"datum.m==='Fatigued' && datum.s==='Male' && datum.t !== ''"}],"mark":{"type":"text","dy":-13,"fontSize":12,"fontWeight":"bold","baseline":"middle"},"encoding":{"y":{"field":"v","type":"quantitative"},"text":{"field":"t"}}}
 ]},
{"width":117,"height":136,
 "title":{"text":"C","anchor":"start","frame":"group","orient":"top","dx":-46,"dy":33,"fontSize":18,"offset":0,"baseline":"alphabetic"},
 "layer":[
  {"data":{"name":"bars"},"transform":[{"filter":"datum.m==='Stressed'"}],"mark":{"type":"bar"},
   "encoding":{"x":{"field":"s","type":"nominal","sort":["Female","Male"],"scale":{"paddingInner":0.14,"paddingOuter":0.24},"axis":{"ticks":false,"title":null,"labelAngle":0,"labelPadding":10,"labelFontSize":10.5}},
    "xOffset":{"field":"c","type":"nominal","sort":["ESD","Control"],"scale":{"domain":["ESD","Control"],"paddingInner":0.04}},
    "y":{"field":"v","type":"quantitative","scale":{"domain":[0,20],"nice":false,"zero":false},"axis":{"values":[0,2.5,5,7.5,10,12.5,15,17.5,20],"tickCount":40,"format":"d","labelOverlap":false,"labelExpr":"datum.value % 5 === 0 ? datum.label : ''","tickSize":{"condition":{"test":"datum.value % 5 === 0","value":6},"value":3},"title":"Stressed","titlePadding":3}},
    "y2":{"datum":0},
    "color":{"field":"c","type":"nominal","scale":{"domain":["ESD","Control"],"range":["#FF0000","#5B9BF0"]},"legend":null}}},
  {"data":{"name":"bars"},"transform":[{"filter":"datum.m==='Stressed'"}],"mark":{"type":"rule","strokeWidth":1.5},
   "encoding":{"x":{"field":"s","type":"nominal"},"xOffset":{"field":"c","type":"nominal"},"y":{"field":"v","type":"quantitative"},"y2":{"field":"hi"},"color":{"field":"c","type":"nominal","legend":null}}},
  {"data":{"name":"bars"},"transform":[{"filter":"datum.m==='Stressed'"}],"mark":{"type":"tick","size":9,"thickness":1.5},
   "encoding":{"x":{"field":"s","type":"nominal"},"xOffset":{"field":"c","type":"nominal"},"y":{"field":"hi","type":"quantitative"},"color":{"field":"c","type":"nominal","legend":null}}},
  {"data":{"name":"notes"},"transform":[{"filter":"datum.m==='Stressed'"}],"mark":{"type":"text","align":"left","dx":-3,"fontSize":9,"color":"#444","baseline":"middle"},
   "encoding":{"x":{"field":"s","type":"nominal","bandPosition":0},"y":{"field":"v","type":"quantitative"},"text":{"field":"t"}}}
 ]},
{"width":205,"height":136,
 "encoding":{"x":{"field":"d","type":"quantitative","scale":{"domain":[3,18.5],"nice":false,"zero":false},"axis":{"values":[4,5,6,7,8,9,10,11,12,13,14,15,16,17,18],"tickCount":40,"format":"d","labelExpr":"datum.value % 2 === 0 ? datum.label : ''","labelOverlap":false,"title":"Study Day","titleFontWeight":"normal","titlePadding":3,"tickSize":5,"labelPadding":3}}},
 "layer":[
  {"data":{"name":"bands"},"mark":{"type":"rect","color":"#D3D3D3"},"encoding":{"x2":{"field":"d2"}}},
  {"data":{"name":"lines"},"transform":[{"filter":"datum.m==='Stressed' && datum.s==='Female'"}],"mark":{"type":"errorbar","ticks":{"size":8},"thickness":1},"encoding":{"y":{"field":"v","type":"quantitative","scale":{"domain":[0,20],"nice":false,"zero":false},"axis":{"values":[0,2.5,5,7.5,10,12.5,15,17.5,20],"tickCount":40,"labels":false,"title":null,"tickSize":{"condition":{"test":"datum.value % 5 === 0","value":6},"value":3}}},"yError":{"field":"e"},"color":{"field":"c","type":"nominal","scale":{"domain":["ESD","Control"],"range":["#FF0000","#5B9BF0"]},"legend":null},"opacity":{"value":0.45}}},
  {"data":{"name":"lines"},"transform":[{"filter":"datum.m==='Stressed' && datum.s==='Female'"}],"mark":{"type":"line","strokeWidth":2},"encoding":{"y":{"field":"v","type":"quantitative"},"color":{"field":"c","type":"nominal","legend":null}}},
  {"data":{"name":"lines"},"transform":[{"filter":"datum.m==='Stressed' && datum.s==='Female'"}],"mark":{"type":"point","filled":true,"size":60,"opacity":1},"encoding":{"y":{"field":"v","type":"quantitative"},"color":{"field":"c","type":"nominal","legend":null},"shape":{"field":"c","type":"nominal","scale":{"domain":["ESD","Control"],"range":["triangle-up","circle"]},"legend":null}}}
 ]},
{"width":205,"height":136,
 "encoding":{"x":{"field":"d","type":"quantitative","scale":{"domain":[3,18.5],"nice":false,"zero":false},"axis":{"values":[4,5,6,7,8,9,10,11,12,13,14,15,16,17,18],"tickCount":40,"format":"d","labelExpr":"datum.value % 2 === 0 ? datum.label : ''","labelOverlap":false,"title":"Study Day","titleFontWeight":"normal","titlePadding":3,"tickSize":5,"labelPadding":3}}},
 "layer":[
  {"data":{"name":"bands"},"mark":{"type":"rect","color":"#D3D3D3"},"encoding":{"x2":{"field":"d2"}}},
  {"data":{"name":"lines"},"transform":[{"filter":"datum.m==='Stressed' && datum.s==='Male'"}],"mark":{"type":"errorbar","ticks":{"size":8},"thickness":1},"encoding":{"y":{"field":"v","type":"quantitative","scale":{"domain":[0,20],"nice":false,"zero":false},"axis":{"values":[0,2.5,5,7.5,10,12.5,15,17.5,20],"tickCount":40,"labels":false,"title":null,"tickSize":{"condition":{"test":"datum.value % 5 === 0","value":6},"value":3}}},"yError":{"field":"e"},"color":{"field":"c","type":"nominal","scale":{"domain":["ESD","Control"],"range":["#FF0000","#5B9BF0"]},"legend":null},"opacity":{"value":0.45}}},
  {"data":{"name":"lines"},"transform":[{"filter":"datum.m==='Stressed' && datum.s==='Male'"}],"mark":{"type":"line","strokeWidth":2},"encoding":{"y":{"field":"v","type":"quantitative"},"color":{"field":"c","type":"nominal","legend":null}}},
  {"data":{"name":"lines"},"transform":[{"filter":"datum.m==='Stressed' && datum.s==='Male'"}],"mark":{"type":"point","filled":true,"size":60,"opacity":1},"encoding":{"y":{"field":"v","type":"quantitative"},"color":{"field":"c","type":"nominal","legend":null},"shape":{"field":"c","type":"nominal","scale":{"domain":["ESD","Control"],"range":["triangle-up","circle"]},"legend":null}}}
 ]}
]
}
